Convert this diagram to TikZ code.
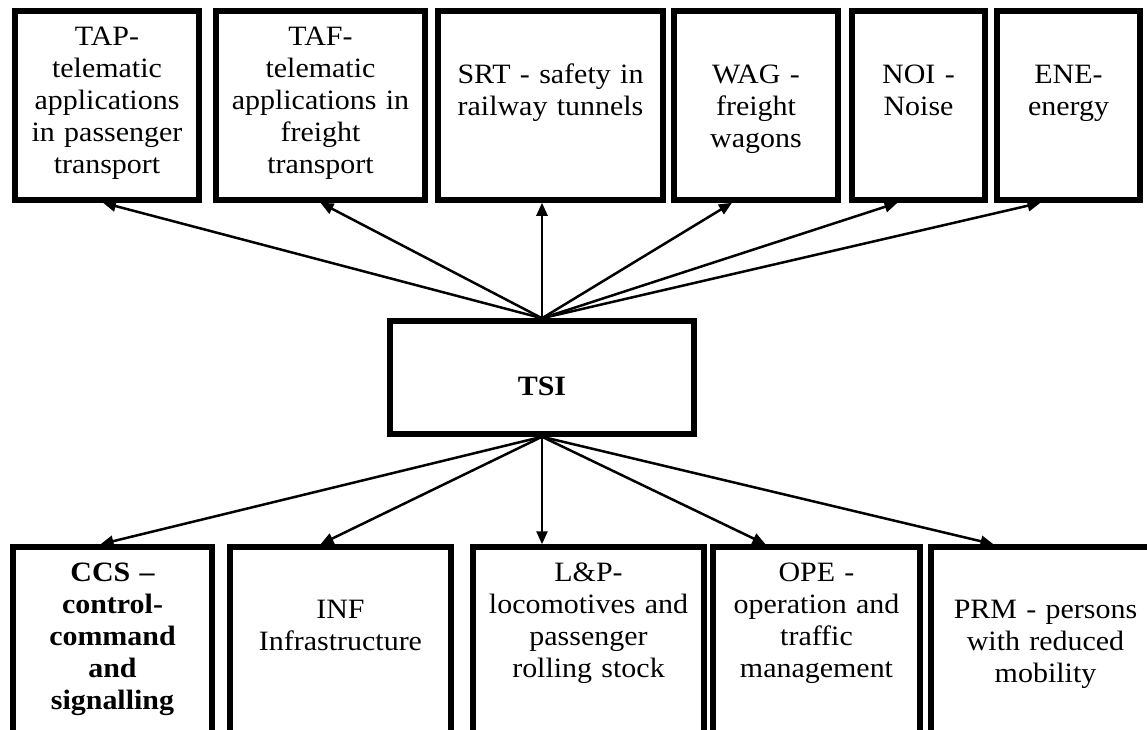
\documentclass[tikz,border=0pt]{standalone}
\usepackage{fontspec}
\setmainfont{Liberation Serif}[FakeStretch=1.07]
\usetikzlibrary{arrows.meta, positioning}

\begin{document}
\begin{tikzpicture}[
  x=1pt, y=-1pt,
  >={Triangle[length=13pt, width=11pt]},
  tsibox/.style={draw, line width=5.5pt, inner sep=0pt, align=center, font=\fontsize{28}{32}\selectfont},
  topbox/.style={tsibox, text height=34pt, text depth=155pt},
  topboxlow/.style={tsibox, text height=72pt, text depth=117pt},
  botbox/.style={tsibox, text height=34pt, text depth=199pt},
  botboxlow/.style={tsibox, text height=71pt, text depth=162pt},
  link/.style={line width=2.5pt, ->},
]

% Page
\useasboundingbox (0,0) rectangle (1147,729);
\clip (0,0) rectangle (1147,729);

% Centre
\node[tsibox, font=\fontsize{28}{32}\selectfont\bfseries, minimum width=304pt, text height=74pt, text depth=39pt] (tsi) at (542,377.5) {TSI};

% Top row
\node[topbox, text width=184pt] (tap) at (107,105.5) {TAP-\\telematic\\applications\\in passenger\\transport};
\node[topbox, text width=209pt] (taf) at (320.5,105.5) {TAF-\\telematic\\applications in\\freight\\transport};
\node[topboxlow, text width=225pt] (srt) at (550.5,105.5) {SRT - safety in\\railway tunnels};
\node[topboxlow, text width=164pt] (wag) at (756,105.5) {WAG -\\freight\\wagons};
\node[topboxlow, text width=133pt] (noi) at (918.5,105.5) {NOI -\\Noise};
\node[topboxlow, text width=143pt] (ene) at (1068.5,105.5) {ENE-\\energy};

% Bottom row
\node[botbox, text width=199pt, font=\fontsize{28}{32}\selectfont\bfseries] (ccs) at (112.5,663.5) {CCS --\\control-\\command\\and\\signalling};
\node[botboxlow, text width=221pt] (inf) at (340.5,663.5) {INF\\Infrastructure};
\node[botbox, text width=231pt] (lp) at (588.5,663.5) {L\&P-\\locomotives and\\passenger\\rolling stock};
\node[botbox, text width=207pt] (ope) at (816.5,663.5) {OPE -\\operation and\\traffic\\management};
\node[botboxlow, text width=229pt] (prm) at (1045.5,663.5) {PRM - persons\\with reduced\\mobility};

% Arrows up
\draw[link] (tsi.north) -- ([xshift=-4pt]tap.south);
\draw[link] (tsi.north) -- (taf.south);
\draw[link] (tsi.north) -- (tsi.north |- srt.south);
\draw[link] (tsi.north) -- ([xshift=-24pt]wag.south);
\draw[link] (tsi.north) -- ([xshift=-21pt]noi.south);
\draw[link] (tsi.north) -- ([xshift=-28pt]ene.south);

% Arrows down
\draw[link] (tsi.south) -- ([xshift=-12pt]ccs.north);
\draw[link] (tsi.south) -- ([xshift=-20pt]inf.north);
\draw[link] (tsi.south) -- (tsi.south |- lp.north);
\draw[link] (tsi.south) -- ([xshift=-51pt]ope.north);
\draw[link] (tsi.south) -- ([xshift=-52pt]prm.north);

\end{tikzpicture}
\end{document}
